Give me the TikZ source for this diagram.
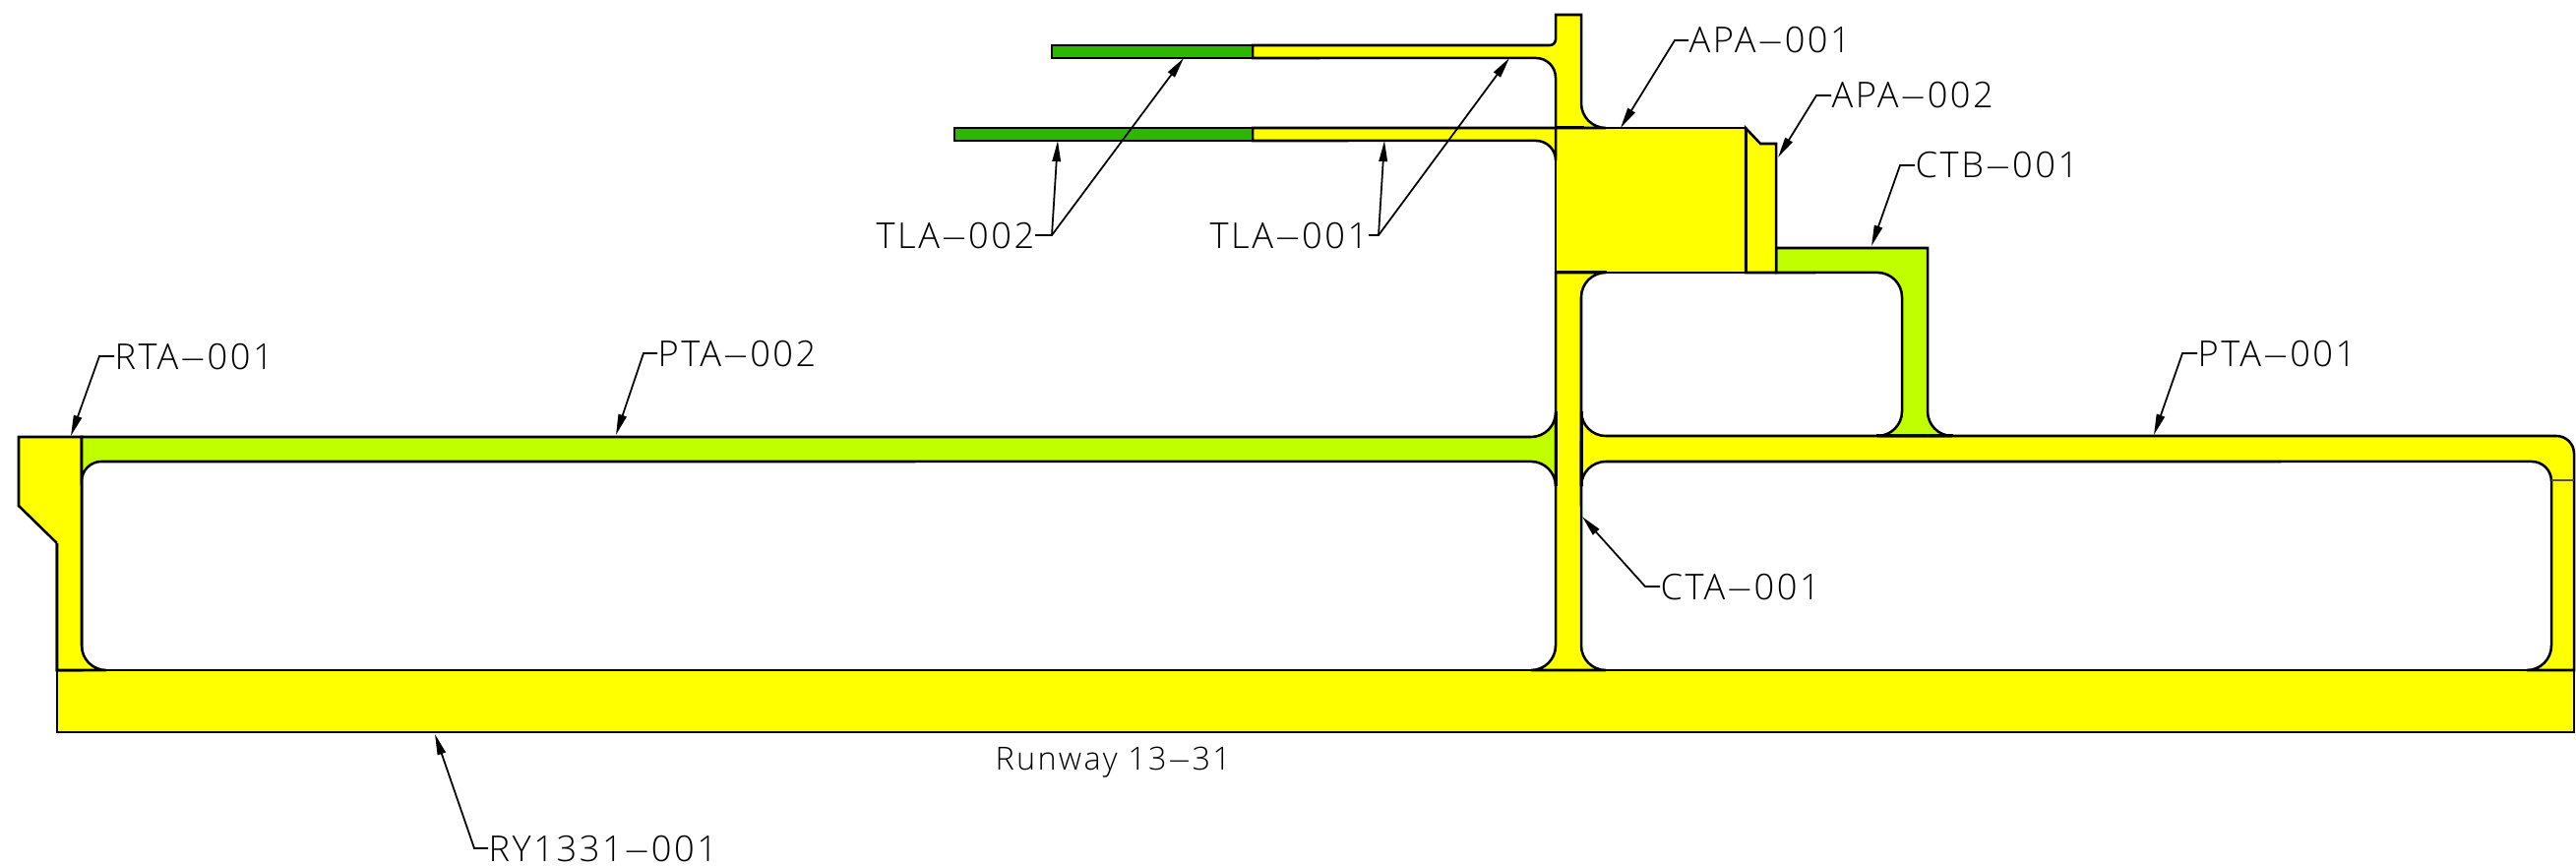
\documentclass[tikz,border=0pt]{standalone}
\usepackage{fontspec}
\usepackage{graphicx}
\usetikzlibrary{arrows.meta}
\setmainfont[LetterSpace=7]{Open Sans Light}
\newcommand\hy{\scalebox{2.5}[1]{-}}
\newcommand\fa[3]{arc[start angle=#1,end angle=#2,radius=#3]}
\definecolor{pavey}{HTML}{FFFF00}
\definecolor{paveg}{HTML}{BFFF00}
\definecolor{paved}{HTML}{2DB700}
\tikzset{
  pave/.style={draw=black,line width=0.72pt,line join=miter},
  yel/.style={pave,fill=pavey},
  lime/.style={pave,fill=paveg},
  dark/.style={pave,fill=paved},
  heavy/.style={draw=black,line width=0.85pt},
  lbl/.style={inner sep=0pt,anchor=west,font=\fontsize{10.3}{12}\selectfont,text height=7.9pt,text depth=0.5pt},
  plain/.style={inner sep=0pt,anchor=west,font=\fontsize{9.2}{11}\selectfont},
  leader/.style={draw=black,line width=0.5pt,-{Triangle[length=6pt,width=2.4pt]}},
}
\begin{document}
\begin{tikzpicture}[x=0.01cm,y=-0.01cm]
\useasboundingbox (0,0) rectangle (2618,880);
% pavement
\path[yel] (58,681) rectangle (2616,744);
\path[yel] (19,444) -- (83,444) -- (83,681) -- (58,681) -- (58,552) -- (19,514) -- cycle;
\path[lime] (83,444) -- (1556,444) \fa{270}{360}{.25cm} -- (1581,494) \fa{0}{90}{.25cm} -- (103,469) \fa{90}{180}{.2cm} -- cycle;
\path[yel] (83,489) -- (83,656) \fa{180}{270}{.25cm} -- (58,681) -- (58,552);
\path[yel] (1581,277) -- (1632,277) \fa{90}{180}{.25cm} -- (1607,656) \fa{180}{270}{.25cm} -- (1556,681) \fa{270}{360}{.25cm} -- cycle;
\path[yel] (1607,418) \fa{180}{270}{.25cm} -- (2598,443) \fa{90}{0}{.18cm} -- (2616,681) -- (2568,681) \fa{270}{360}{.25cm} -- (2593,489) \fa{0}{90}{.2cm} -- (1632,469) \fa{90}{180}{.25cm} -- cycle;
\path[lime] (1805,252) -- (1959,252) -- (1959,418) \fa{180}{270}{.25cm} -- (1908,443) \fa{270}{360}{.25cm} -- (1933,302) \fa{0}{90}{.25cm} -- (1805,277) -- cycle;
\path[yel] (1581,130) rectangle (1774,277);
\path[yel] (1774,130) -- (1789,146) -- (1805,146) -- (1805,277) -- (1774,277) -- cycle;
\path[yel] (1273,46) -- (1575,46) \fa{270}{360}{.06cm} -- (1581,15) -- (1607,15) -- (1607,105) \fa{180}{270}{.25cm} -- (1581,130) -- (1581,79) \fa{0}{90}{.2cm} -- (1273,59) -- cycle;
\path[yel] (1273,130) -- (1581,130) -- (1581,163) \fa{0}{90}{.2cm} -- (1273,143) -- cycle;
\path[dark] (1069,46) rectangle (1273,59);
\path[dark] (970,130) rectangle (1273,143);
% heavier joints
\coordinate (ja) at (1581,130); \coordinate (jb) at (1610,130);
\coordinate (jc) at (1581,277); \coordinate (jd) at (1633,277);
\coordinate (je) at (1555,681); \coordinate (jf) at (1633,681);
\coordinate (jg) at (1581,418); \coordinate (jh) at (1581,494);
\coordinate (ji) at (1607,418); \coordinate (jj) at (1607,494);
\coordinate (jk) at (58,681); \coordinate (jl) at (110,681);
\coordinate (jm) at (2568,681); \coordinate (jn) at (2616,681);
\coordinate (jo) at (1907,443); \coordinate (jp) at (1985,443);
\coordinate (jq) at (83,444); \coordinate (jr) at (83,489);
\draw[heavy] (ja) -- (jb); \draw[heavy] (jc) -- (jd); \draw[heavy] (je) -- (jf);
\draw[heavy] (jg) -- (jh); \draw[heavy] (ji) -- (jj); \draw[heavy] (jk) -- (jl);
\draw[heavy] (jm) -- (jn); \draw[heavy] (jo) -- (jp); \draw[heavy] (jq) -- (jr);
\coordinate (js) at (1774,130); \coordinate (jt) at (1774,277);
\draw[heavy] (js) -- (jt);
\coordinate (ju) at (2593,488); \coordinate (jv) at (2616,488);
\draw[draw=black!70,line width=0.3pt] (ju) -- (jv);
% labels
\node[lbl] (tlb) at (890,239) {TLA\hy 002};
\node[lbl] (tla) at (1229,239) {TLA\hy 001};
\node[lbl] (apa) at (1716,41) {APA\hy 001};
\node[lbl] (apb) at (1861,97) {APA\hy 002};
\node[lbl] (ctb) at (1946,168) {CTB\hy 001};
\node[lbl] (cta) at (1687,596) {CTA\hy 001};
\node[lbl] (rta) at (116,362) {RTA\hy 001};
\node[lbl] (ptb) at (668,359) {PTA\hy 002};
\node[lbl] (ptc) at (2233,359) {PTA\hy 001};
\node[lbl] (rwy) at (496,862) {RY1331\hy 001};
\node[plain] (rwt) at (1011,775) {Runway 13\hy 31};
% leaders
\coordinate (e1) at (1069,239); \coordinate (e2) at (1401,239);
\coordinate (e3) at (1702,41); \coordinate (e4) at (1846,97);
\coordinate (e5) at (1931,168); \coordinate (e6) at (1672,596);
\coordinate (e7) at (101,362); \coordinate (e8) at (654,359);
\coordinate (e9) at (2218,359); \coordinate (e10) at (482,862);
\coordinate (t1) at (1203,59); \coordinate (t2) at (1075,143);
\coordinate (t3) at (1534,59); \coordinate (t4) at (1407,143);
\coordinate (t5) at (1647,130); \coordinate (t6) at (1807,160);
\coordinate (t7) at (1902,250); \coordinate (t8) at (1608,525);
\coordinate (t9) at (72,443); \coordinate (t10) at (626,442);
\coordinate (t11) at (2189,442); \coordinate (t12) at (442,746);
\draw[leader] (tlb.east) -- (e1) -- (t1);
\draw[leader] (e1) -- (t2);
\draw[leader] (tla.east) -- (e2) -- (t3);
\draw[leader] (e2) -- (t4);
\draw[leader] (apa.west) -- (e3) -- (t5);
\draw[leader] (apb.west) -- (e4) -- (t6);
\draw[leader] (ctb.west) -- (e5) -- (t7);
\draw[leader] (cta.west) -- (e6) -- (t8);
\draw[leader] (rta.west) -- (e7) -- (t9);
\draw[leader] (ptb.west) -- (e8) -- (t10);
\draw[leader] (ptc.west) -- (e9) -- (t11);
\draw[leader] (rwy.west) -- (e10) -- (t12);
\end{tikzpicture}
\end{document}
